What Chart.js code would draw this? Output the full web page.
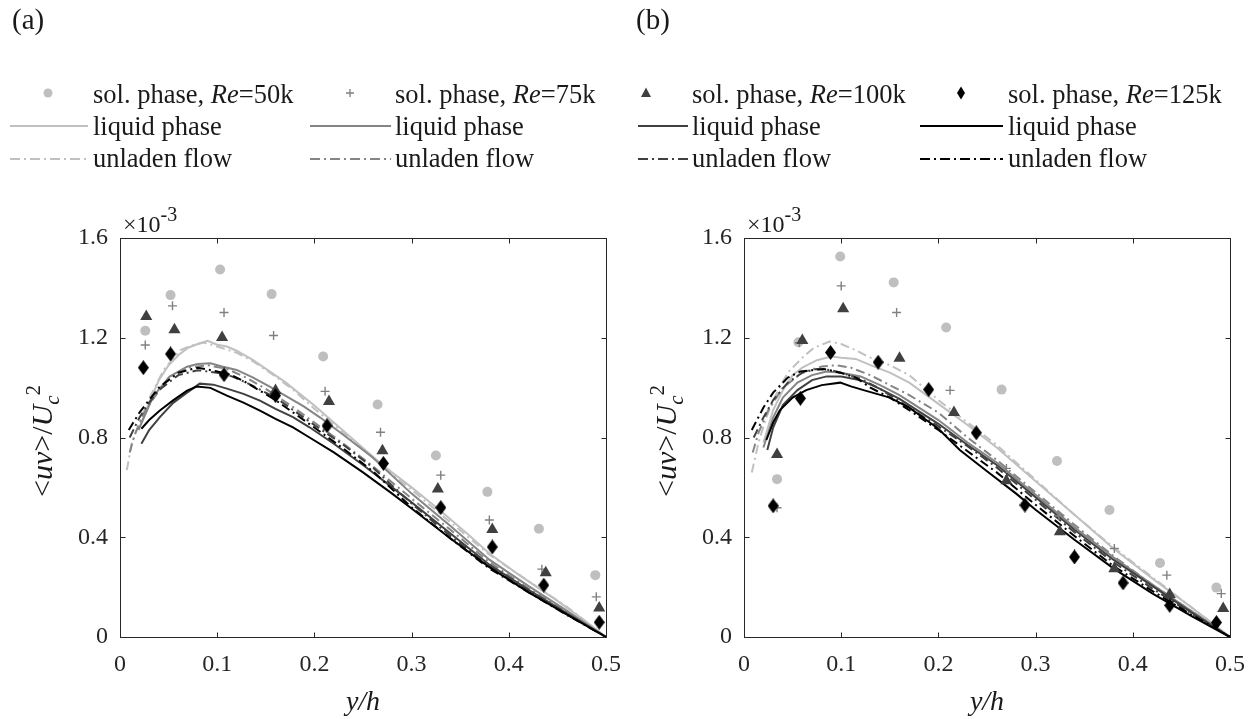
<!DOCTYPE html>
<html><head><meta charset="utf-8">
<script src="https://cdn.jsdelivr.net/npm/chart.js@4.4.1/dist/chart.umd.min.js"></script>
<style>
html,body{margin:0;padding:0;background:#fff;width:1255px;height:719px;overflow:hidden;}
#wrap{position:relative;width:1255px;height:719px;}
canvas{position:absolute;top:200px;}
#ca{left:0px;} #cb{left:625px;}
svg{position:absolute;left:0;top:0;pointer-events:none;}
</style></head><body>
<div id="wrap">
<canvas id="ca" width="625" height="519"></canvas>
<canvas id="cb" width="625" height="519"></canvas>
<svg width="1255" height="719" font-family="'Liberation Serif','Times New Roman',serif" fill="#1a1a1a">
  <!-- panel labels -->
  <text x="12" y="29" font-size="29">(a)</text>
  <text x="636" y="29" font-size="29">(b)</text>
  <!-- legend markers -->
  <circle cx="48" cy="93" r="4.5" fill="#bfbfbf"/>
  <path d="M346,93 H354 M350,89 V97" stroke="#808080" stroke-width="1.3"/>
  <polygon points="646,87.5 641,97 651,97" fill="#404040"/>
  <polygon points="961,86.5 965,93 961,99.5 957,93" fill="#000"/>
  <!-- legend lines -->
  <line x1="10" y1="126" x2="88" y2="126" stroke="#c0c0c0" stroke-width="2"/>
  <line x1="310" y1="126" x2="391" y2="126" stroke="#858585" stroke-width="2"/>
  <line x1="638" y1="126" x2="688" y2="126" stroke="#404040" stroke-width="2"/>
  <line x1="920" y1="126" x2="1003" y2="126" stroke="#000" stroke-width="2"/>
  <line x1="10" y1="159" x2="88" y2="159" stroke="#c0c0c0" stroke-width="2" stroke-dasharray="10,4,2,4"/>
  <line x1="310" y1="159" x2="391" y2="159" stroke="#858585" stroke-width="2" stroke-dasharray="10,4,2,4"/>
  <line x1="638" y1="159" x2="688" y2="159" stroke="#404040" stroke-width="2" stroke-dasharray="10,4,2,4"/>
  <line x1="920" y1="159" x2="1003" y2="159" stroke="#000" stroke-width="2" stroke-dasharray="10,4,2,4"/>
  <!-- legend text -->
  <g font-size="26.5">
    <text x="93" y="103">sol. phase, <tspan font-style="italic">Re</tspan>=50k</text>
    <text x="395" y="103">sol. phase, <tspan font-style="italic">Re</tspan>=75k</text>
    <text x="692" y="103">sol. phase, <tspan font-style="italic">Re</tspan>=100k</text>
    <text x="1008" y="103">sol. phase, <tspan font-style="italic">Re</tspan>=125k</text>
    <text x="93" y="135">liquid phase</text>
    <text x="395" y="135">liquid phase</text>
    <text x="692" y="135">liquid phase</text>
    <text x="1008" y="135">liquid phase</text>
    <text x="93" y="167">unladen flow</text>
    <text x="395" y="167">unladen flow</text>
    <text x="692" y="167">unladen flow</text>
    <text x="1008" y="167">unladen flow</text>
  </g>
  <!-- exponent labels -->
  <text x="123" y="232" font-size="24">×10<tspan font-size="20" dy="-11">-3</tspan></text>
  <text x="747" y="232" font-size="24">×10<tspan font-size="20" dy="-11">-3</tspan></text>
  <!-- y titles -->
  <text transform="translate(52,441) rotate(-90)" text-anchor="middle" font-size="30">&lt;<tspan font-style="italic">uv</tspan>&gt;/<tspan font-style="italic">U</tspan><tspan font-style="italic" font-size="21" dy="7">c</tspan><tspan font-size="21" dy="-19">2</tspan></text>
  <text transform="translate(676,441) rotate(-90)" text-anchor="middle" font-size="30">&lt;<tspan font-style="italic">uv</tspan>&gt;/<tspan font-style="italic">U</tspan><tspan font-style="italic" font-size="21" dy="7">c</tspan><tspan font-size="21" dy="-19">2</tspan></text>
  <!-- x titles -->
  <text x="363" y="710" text-anchor="middle" font-size="28" font-style="italic">y/h</text>
  <text x="987" y="710" text-anchor="middle" font-size="28" font-style="italic">y/h</text>
</svg>
</div>
<script>
// ---------- tick definitions ----------
const xTickVals = [0, 0.1, 0.2, 0.3, 0.4, 0.5];
const xTickLabels = ['0', '0.1', '0.2', '0.3', '0.4', '0.5'];
const yTickVals = [0, 0.4, 0.8, 1.2, 1.6];
const yTickLabels = ['0', '0.4', '0.8', '1.2', '1.6'];

// ---------- panel (a): solid phase points (units of 1e-3) ----------
const A_sol50_x  = [0.026,0.052,0.103,0.156,0.209,0.265,0.325,0.378,0.431,0.489];
const A_sol50_y  = [1.228,1.371,1.474,1.375,1.125,0.932,0.728,0.582,0.434,0.248];
const A_sol75_x  = [0.026,0.054,0.107,0.158,0.211,0.268,0.330,0.380,0.434,0.490];
const A_sol75_y  = [1.171,1.328,1.301,1.209,0.985,0.821,0.649,0.469,0.272,0.161];
const A_sol100_x = [0.027,0.056,0.105,0.160,0.215,0.270,0.327,0.383,0.438,0.493];
const A_sol100_y = [1.285,1.232,1.201,0.988,0.944,0.747,0.593,0.431,0.258,0.116];
const A_sol125_x = [0.024,0.052,0.107,0.160,0.213,0.271,0.330,0.383,0.436,0.493];
const A_sol125_y = [1.080,1.135,1.052,0.968,0.847,0.696,0.519,0.361,0.208,0.059];

// ---------- panel (a): liquid phase and unladen flow profiles ----------
const A_liq50_x = [0.022,0.03,0.04,0.05,0.06,0.07,0.08,0.09,0.10,0.11,0.12,0.137,0.155,0.17,0.185,0.2,0.22,0.245,0.27,0.3,0.33,0.36,0.38,0.41,0.45,0.475,0.5];
const A_liq50_y = [0.86,0.94,1.03,1.09,1.13,1.16,1.175,1.188,1.172,1.165,1.148,1.11,1.062,1.022,0.975,0.928,0.86,0.775,0.69,0.60,0.505,0.405,0.335,0.25,0.145,0.075,0.0];
const A_unl50_x = [0.007,0.012,0.021,0.031,0.045,0.062,0.075,0.086,0.1,0.12,0.137,0.16,0.18,0.2,0.23,0.26,0.3,0.34,0.38,0.42,0.46,0.5];
const A_unl50_y = [0.669,0.776,0.870,0.964,1.071,1.151,1.17,1.181,1.165,1.14,1.105,1.045,0.985,0.915,0.82,0.72,0.59,0.46,0.33,0.225,0.12,0.0];
const A_liq75_x = [0.019,0.034,0.051,0.069,0.08,0.093,0.105,0.12,0.137,0.154,0.17,0.189,0.206,0.23,0.26,0.3,0.34,0.38,0.42,0.46,0.5];
const A_liq75_y = [0.83,0.964,1.044,1.084,1.095,1.098,1.085,1.071,1.04,1.004,0.968,0.925,0.88,0.81,0.72,0.575,0.445,0.31,0.205,0.105,0.0];
const A_unl75_x = [0.01,0.015,0.025,0.035,0.05,0.07,0.09,0.11,0.13,0.15,0.175,0.2,0.23,0.26,0.3,0.34,0.38,0.42,0.46,0.5];
const A_unl75_y = [0.74,0.81,0.90,0.96,1.04,1.08,1.09,1.075,1.04,0.995,0.93,0.86,0.775,0.685,0.555,0.43,0.3,0.195,0.1,0.0];
const A_liq100_x = [0.022,0.03,0.041,0.055,0.069,0.082,0.096,0.11,0.127,0.144,0.16,0.178,0.195,0.22,0.25,0.28,0.3,0.34,0.38,0.42,0.46,0.5];
const A_liq100_y = [0.775,0.83,0.882,0.94,0.98,1.016,1.012,0.996,0.975,0.948,0.915,0.882,0.841,0.775,0.69,0.60,0.54,0.415,0.29,0.19,0.095,0.0];
const A_unl100_x = [0.01,0.02,0.03,0.04,0.06,0.08,0.1,0.115,0.13,0.16,0.2,0.23,0.26,0.3,0.34,0.38,0.42,0.46,0.5];
const A_unl100_y = [0.80,0.88,0.94,0.99,1.05,1.07,1.06,1.045,1.02,0.96,0.85,0.77,0.68,0.535,0.405,0.285,0.185,0.09,0.0];
const A_liq125_x = [0.022,0.03,0.041,0.055,0.069,0.079,0.093,0.11,0.127,0.144,0.16,0.178,0.195,0.22,0.25,0.28,0.3,0.34,0.38,0.42,0.46,0.5];
const A_liq125_y = [0.835,0.87,0.908,0.95,0.988,1.004,0.999,0.968,0.94,0.908,0.875,0.841,0.80,0.74,0.66,0.575,0.515,0.395,0.28,0.18,0.09,0.0];
const A_unl125_x = [0.009,0.02,0.03,0.04,0.06,0.08,0.1,0.115,0.13,0.16,0.2,0.23,0.26,0.3,0.34,0.38,0.42,0.46,0.5];
const A_unl125_y = [0.83,0.90,0.95,1.00,1.06,1.08,1.065,1.05,1.02,0.95,0.84,0.755,0.665,0.52,0.395,0.275,0.18,0.088,0.0];

// ---------- panel (b): solid phase points ----------
const B_sol50_x  = [0.034,0.056,0.099,0.154,0.208,0.265,0.322,0.376,0.428,0.486];
const B_sol50_y  = [0.633,1.182,1.526,1.422,1.241,0.992,0.706,0.509,0.297,0.198];
const B_sol75_x  = [0.034,0.057,0.100,0.157,0.212,0.270,0.324,0.381,0.435,0.491];
const B_sol75_y  = [0.518,1.180,1.408,1.301,0.989,0.676,0.486,0.355,0.248,0.174];
const B_sol100_x = [0.034,0.060,0.102,0.160,0.216,0.270,0.325,0.381,0.438,0.493];
const B_sol100_y = [0.732,1.189,1.316,1.118,0.900,0.627,0.422,0.274,0.170,0.114];
const B_sol125_x = [0.030,0.058,0.089,0.138,0.190,0.239,0.289,0.340,0.390,0.438,0.486];
const B_sol125_y = [0.526,0.957,1.141,1.102,0.992,0.819,0.529,0.321,0.217,0.127,0.058];

// ---------- panel (b): liquid phase and unladen flow profiles ----------
const B_liq50_x = [0.02,0.03,0.04,0.05,0.06,0.075,0.09,0.1,0.115,0.13,0.15,0.17,0.2,0.23,0.26,0.3,0.34,0.38,0.42,0.46,0.5];
const B_liq50_y = [0.78,0.91,0.99,1.05,1.08,1.11,1.125,1.12,1.115,1.09,1.06,1.02,0.935,0.85,0.76,0.625,0.49,0.355,0.235,0.12,0.0];
const B_unl50_x = [0.008,0.015,0.022,0.03,0.045,0.06,0.072,0.088,0.1,0.115,0.13,0.15,0.17,0.2,0.23,0.26,0.3,0.34,0.38,0.42,0.46,0.5];
const B_unl50_y = [0.66,0.78,0.87,0.95,1.06,1.12,1.16,1.185,1.175,1.15,1.12,1.09,1.05,0.95,0.86,0.77,0.63,0.49,0.36,0.24,0.12,0.0];
const B_liq75_x = [0.02,0.03,0.04,0.055,0.07,0.085,0.1,0.12,0.14,0.16,0.18,0.2,0.23,0.26,0.3,0.34,0.38,0.42,0.46,0.5];
const B_liq75_y = [0.76,0.88,0.96,1.02,1.05,1.065,1.06,1.045,1.01,0.97,0.92,0.87,0.78,0.70,0.57,0.44,0.32,0.21,0.105,0.0];
const B_unl75_x = [0.009,0.015,0.025,0.04,0.06,0.08,0.095,0.11,0.13,0.15,0.17,0.2,0.23,0.26,0.3,0.34,0.38,0.42,0.46,0.5];
const B_unl75_y = [0.74,0.82,0.91,1.0,1.06,1.085,1.09,1.08,1.05,1.01,0.97,0.90,0.80,0.71,0.58,0.45,0.325,0.21,0.105,0.0];
const B_liq100_x = [0.024,0.03,0.04,0.055,0.07,0.085,0.1,0.12,0.14,0.16,0.18,0.2,0.23,0.26,0.3,0.34,0.38,0.42,0.46,0.5];
const B_liq100_y = [0.75,0.84,0.93,0.99,1.03,1.045,1.045,1.03,0.995,0.955,0.905,0.855,0.77,0.69,0.56,0.43,0.31,0.205,0.1,0.0];
const B_unl100_x = [0.01,0.02,0.03,0.045,0.06,0.075,0.09,0.1,0.12,0.14,0.17,0.2,0.23,0.26,0.3,0.34,0.38,0.42,0.46,0.5];
const B_unl100_y = [0.80,0.88,0.95,1.02,1.06,1.075,1.07,1.06,1.035,0.995,0.92,0.845,0.765,0.68,0.55,0.42,0.30,0.195,0.095,0.0];
const B_liq125_x = [0.023,0.03,0.037,0.05,0.064,0.08,0.099,0.11,0.123,0.15,0.17,0.184,0.2,0.222,0.25,0.28,0.3,0.34,0.38,0.42,0.46,0.5];
const B_liq125_y = [0.79,0.86,0.91,0.96,0.99,1.01,1.02,1.005,0.99,0.96,0.92,0.88,0.835,0.75,0.665,0.575,0.51,0.39,0.275,0.175,0.085,0.0];
const B_unl125_x = [0.008,0.02,0.03,0.045,0.058,0.07,0.082,0.099,0.115,0.13,0.15,0.17,0.2,0.23,0.26,0.3,0.34,0.38,0.42,0.46,0.5];
const B_unl125_y = [0.83,0.92,0.98,1.04,1.065,1.07,1.075,1.06,1.04,1.0,0.96,0.91,0.83,0.745,0.66,0.53,0.405,0.285,0.185,0.09,0.0];

// ---------- styling ----------
const FONT = "'Liberation Serif','Times New Roman',Times,serif";
const C50 = '#c0c0c0', C75 = '#858585', C100 = '#404040', C125 = '#000000';
const DASHDOT = [9, 4, 2, 4];

function diamondImg(w, h, color) {
  const c = document.createElement('canvas');
  c.width = w; c.height = h;
  const g = c.getContext('2d');
  g.fillStyle = color;
  g.beginPath();
  g.moveTo(w / 2, 0); g.lineTo(w, h / 2); g.lineTo(w / 2, h); g.lineTo(0, h / 2);
  g.closePath(); g.fill();
  return c;
}
const DIAMOND = diamondImg(11, 15, C125);

function pts(xs, ys) { return xs.map((x, i) => ({ x: x, y: ys[i] })); }

function markerSet(xs, ys, style) {
  return Object.assign({ type: 'scatter', data: pts(xs, ys), showLine: false, order: 0, clip: false }, style);
}
function lineSet(xs, ys, color, dashed, order) {
  return {
    type: 'scatter', data: pts(xs, ys), showLine: true, borderColor: color, backgroundColor: color,
    borderWidth: 2, borderDash: dashed ? DASHDOT : [], pointRadius: 0, tension: 0, order: order, clip: false
  };
}

const boxPlugin = {
  id: 'matlabBox',
  beforeDatasetsDraw(chart) {
    const { ctx, chartArea: a, scales } = chart;
    const L = Math.round(a.left) + 0.5, R = Math.round(a.right) + 0.5;
    const T = Math.round(a.top) + 0.5, B = Math.round(a.bottom) + 0.5;
    ctx.save();
    ctx.strokeStyle = '#262626';
    ctx.lineWidth = 1;
    ctx.strokeRect(L, T, R - L, B - T);
    ctx.beginPath();
    scales.x.ticks.forEach(t => {
      const px = Math.round(scales.x.getPixelForValue(t.value)) + 0.5;
      ctx.moveTo(px, B); ctx.lineTo(px, B - 5);
      ctx.moveTo(px, T); ctx.lineTo(px, T + 5);
    });
    scales.y.ticks.forEach(t => {
      const py = Math.round(scales.y.getPixelForValue(t.value)) + 0.5;
      ctx.moveTo(L, py); ctx.lineTo(L + 5, py);
      ctx.moveTo(R, py); ctx.lineTo(R - 5, py);
    });
    ctx.stroke();
    ctx.restore();
  }
};

function makeChart(id, yAxisWidth, padRight, S, Lset) {
  const datasets = [
    markerSet(S.x125, S.y125, { pointStyle: DIAMOND, pointRadius: 7 }),
    markerSet(S.x100, S.y100, { pointStyle: 'triangle', pointRadius: 7, backgroundColor: C100, borderColor: C100, borderWidth: 0 }),
    markerSet(S.x75, S.y75, { pointStyle: 'cross', pointRadius: 4.5, borderColor: '#808080', backgroundColor: '#808080', borderWidth: 1.4 }),
    markerSet(S.x50, S.y50, { pointStyle: 'circle', pointRadius: 5, backgroundColor: '#bfbfbf', borderColor: '#bfbfbf', borderWidth: 0 }),
    lineSet(Lset.liq125x, Lset.liq125y, C125, false, 1),
    lineSet(Lset.unl125x, Lset.unl125y, C125, true, 2),
    lineSet(Lset.liq100x, Lset.liq100y, C100, false, 3),
    lineSet(Lset.unl100x, Lset.unl100y, C100, true, 4),
    lineSet(Lset.liq75x, Lset.liq75y, C75, false, 5),
    lineSet(Lset.unl75x, Lset.unl75y, C75, true, 6),
    lineSet(Lset.liq50x, Lset.liq50y, C50, false, 7),
    lineSet(Lset.unl50x, Lset.unl50y, C50, true, 8)
  ];
  return new Chart(document.getElementById(id), {
    type: 'scatter',
    data: { datasets: datasets },
    options: {
      responsive: false, animation: false, devicePixelRatio: 1,
      layout: { padding: { top: 38, right: padRight, left: 0, bottom: 0 } },
      plugins: { legend: { display: false }, tooltip: { enabled: false } },
      scales: {
        x: {
          type: 'linear', min: 0, max: 0.5,
          afterBuildTicks(ax) { ax.ticks = xTickVals.map(v => ({ value: v })); },
          afterFit(ax) { ax.height = 82; ax.paddingLeft = 0; ax.paddingRight = 0; },
          grid: { display: false, drawTicks: false }, border: { display: false },
          ticks: { padding: 13, color: '#262626', font: { family: FONT, size: 24 }, maxRotation: 0, autoSkip: false,
                   callback: (v, i) => xTickLabels[i] }
        },
        y: {
          type: 'linear', min: 0, max: 1.6,
          afterBuildTicks(ax) { ax.ticks = yTickVals.map(v => ({ value: v })); },
          afterFit(ax) { ax.width = yAxisWidth; ax.paddingTop = 0; ax.paddingBottom = 0; },
          grid: { display: false, drawTicks: false }, border: { display: false },
          ticks: { padding: 12, color: '#262626', font: { family: FONT, size: 24 }, autoSkip: false,
                   callback: (v, i) => yTickLabels[i] }
        }
      }
    },
    plugins: [boxPlugin]
  });
}

makeChart('ca', 120, 19,
  { x50: A_sol50_x, y50: A_sol50_y, x75: A_sol75_x, y75: A_sol75_y, x100: A_sol100_x, y100: A_sol100_y, x125: A_sol125_x, y125: A_sol125_y },
  { liq50x: A_liq50_x, liq50y: A_liq50_y, unl50x: A_unl50_x, unl50y: A_unl50_y,
    liq75x: A_liq75_x, liq75y: A_liq75_y, unl75x: A_unl75_x, unl75y: A_unl75_y,
    liq100x: A_liq100_x, liq100y: A_liq100_y, unl100x: A_unl100_x, unl100y: A_unl100_y,
    liq125x: A_liq125_x, liq125y: A_liq125_y, unl125x: A_unl125_x, unl125y: A_unl125_y });

makeChart('cb', 119, 20,
  { x50: B_sol50_x, y50: B_sol50_y, x75: B_sol75_x, y75: B_sol75_y, x100: B_sol100_x, y100: B_sol100_y, x125: B_sol125_x, y125: B_sol125_y },
  { liq50x: B_liq50_x, liq50y: B_liq50_y, unl50x: B_unl50_x, unl50y: B_unl50_y,
    liq75x: B_liq75_x, liq75y: B_liq75_y, unl75x: B_unl75_x, unl75y: B_unl75_y,
    liq100x: B_liq100_x, liq100y: B_liq100_y, unl100x: B_unl100_x, unl100y: B_unl100_y,
    liq125x: B_liq125_x, liq125y: B_liq125_y, unl125x: B_unl125_x, unl125y: B_unl125_y });
</script>
</body></html>
